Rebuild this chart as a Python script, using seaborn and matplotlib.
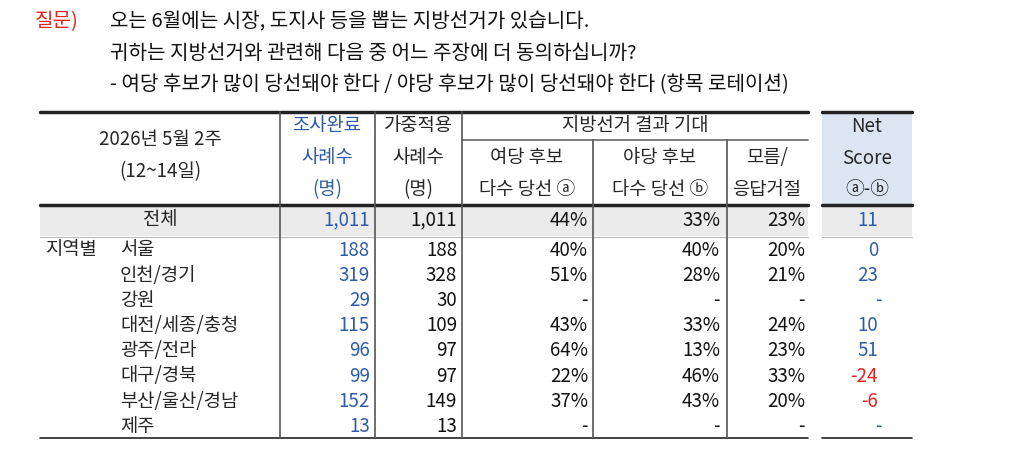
import matplotlib
matplotlib.use("Agg")
import matplotlib.pyplot as plt
import matplotlib.patches as mpatches
import seaborn as sns

sns.set_theme(style="white")
plt.rcParams['font.family'] = ['Noto Sans CJK KR', 'DejaVu Sans']

BLUE = "#2f5ca6"
RED = "#e8211d"

question = ["오는 6월에는 시장, 도지사 등을 뽑는 지방선거가 있습니다.",
            "귀하는 지방선거와 관련해 다음 중 어느 주장에 더 동의하십니까?",
            "- 여당 후보가 많이 당선돼야 한다 / 야당 후보가 많이 당선돼야 한다 (항목 로테이션)"]

regions = ["서울", "인천/경기", "강원", "대전/세종/충청", "광주/전라", "대구/경북", "부산/울산/경남", "제주"]
n_done = ["188", "319", "29", "115", "96", "99", "152", "13"]
n_weight = ["188", "328", "30", "109", "97", "97", "149", "13"]
ruling = ["40%", "51%", "-", "43%", "64%", "22%", "37%", "-"]
opposition = ["40%", "28%", "-", "33%", "13%", "46%", "43%", "-"]
unknown = ["20%", "21%", "-", "24%", "23%", "33%", "20%", "-"]
net = ["0", "23", "-", "10", "51", "-24", "-6", "-"]

total = ["1,011", "1,011", "44%", "33%", "23%", "11"]

W, H = 1027, 458
fig = plt.figure(figsize=(W / 100, H / 100), dpi=100)
ax = fig.add_axes([0, 0, 1, 1])
ax.set_xlim(0, W)
ax.set_ylim(H, 0)
ax.axis("off")
fs = 13.5
qfs = 14.5

# question
ax.text(35, 22, "질문)", color=RED, fontsize=qfs, va="center")
for i, q in enumerate(question):
    ax.text(110, 22 + i * 31.5, q, fontsize=qfs, va="center", color="#111")

# backgrounds
ax.add_patch(mpatches.Rectangle((822, 112), 90, 93, color="#dce6f2", lw=0))
ax.add_patch(mpatches.Rectangle((40, 205), 768, 31, color="#ebebeb", lw=0))
ax.add_patch(mpatches.Rectangle((822, 205), 90, 31, color="#ebebeb", lw=0))

# lines
for x0, x1 in [(40, 808), (822, 912)]:
    ax.plot([x0, x1], [112, 112], color="#222", lw=2.5)
    ax.plot([x0, x1], [205, 205], color="#222", lw=2.5)
    ax.plot([x0, x1], [237, 237], color="#bbb", lw=0.8)
    ax.plot([x0, x1], [438, 438], color="#222", lw=1.2)
ax.plot([462, 808], [140, 140], color="#666", lw=1.2)
for x in [280, 375, 462]:
    ax.plot([x, x], [112, 438], color="#555", lw=1.2)
for x in [593, 727]:
    ax.plot([x, x], [140, 438], color="#555", lw=1.2)

# header
ax.text(160, 140, "2026년 5월 2주", fontsize=fs, ha="center", va="center")
ax.text(160, 172, "(12~14일)", fontsize=fs, ha="center", va="center")
for j, t in enumerate(["조사완료", "사례수", "(명)"]):
    ax.text(327, 126 + j * 32, t, fontsize=fs, ha="center", va="center", color=BLUE)
for j, t in enumerate(["가중적용", "사례수", "(명)"]):
    ax.text(418, 126 + j * 32, t, fontsize=fs, ha="center", va="center")
ax.text(635, 126, "지방선거 결과 기대", fontsize=fs, ha="center", va="center")
ax.text(527, 158, "여당 후보", fontsize=fs, ha="center", va="center")
ax.text(527, 190, "다수 당선 ⓐ", fontsize=fs, ha="center", va="center")
ax.text(660, 158, "야당 후보", fontsize=fs, ha="center", va="center")
ax.text(660, 190, "다수 당선 ⓑ", fontsize=fs, ha="center", va="center")
ax.text(767, 158, "모름/", fontsize=fs, ha="center", va="center")
ax.text(767, 190, "응답거절", fontsize=fs, ha="center", va="center")
for j, t in enumerate(["Net", "Score", "ⓐ-ⓑ"]):
    ax.text(867, 126 + j * 32, t, fontsize=fs, ha="center", va="center")

rights = [370, 457, 588, 720, 805]


def row(y, vals, netv):
    for k, v in enumerate(vals):
        ax.text(rights[k], y, v, fontsize=fs, ha="right", va="center",
                color=BLUE if k == 0 else "#111")
    c = RED if netv.startswith("-") and netv != "-" else BLUE
    ax.text(878, y, netv, fontsize=fs, ha="right" if netv != "-" else "center", va="center", color=c)


ax.text(160, 220, "전체", fontsize=fs, ha="center", va="center")
row(220, total[:5], total[5])

ax.text(45, 250, "지역별", fontsize=fs, va="center")
for i, r in enumerate(regions):
    y = 250 + i * 25.2
    ax.text(120, y, r, fontsize=fs, va="center")
    row(y, [n_done[i], n_weight[i], ruling[i], opposition[i], unknown[i]], net[i])

fig.savefig("out.png", dpi=100)
